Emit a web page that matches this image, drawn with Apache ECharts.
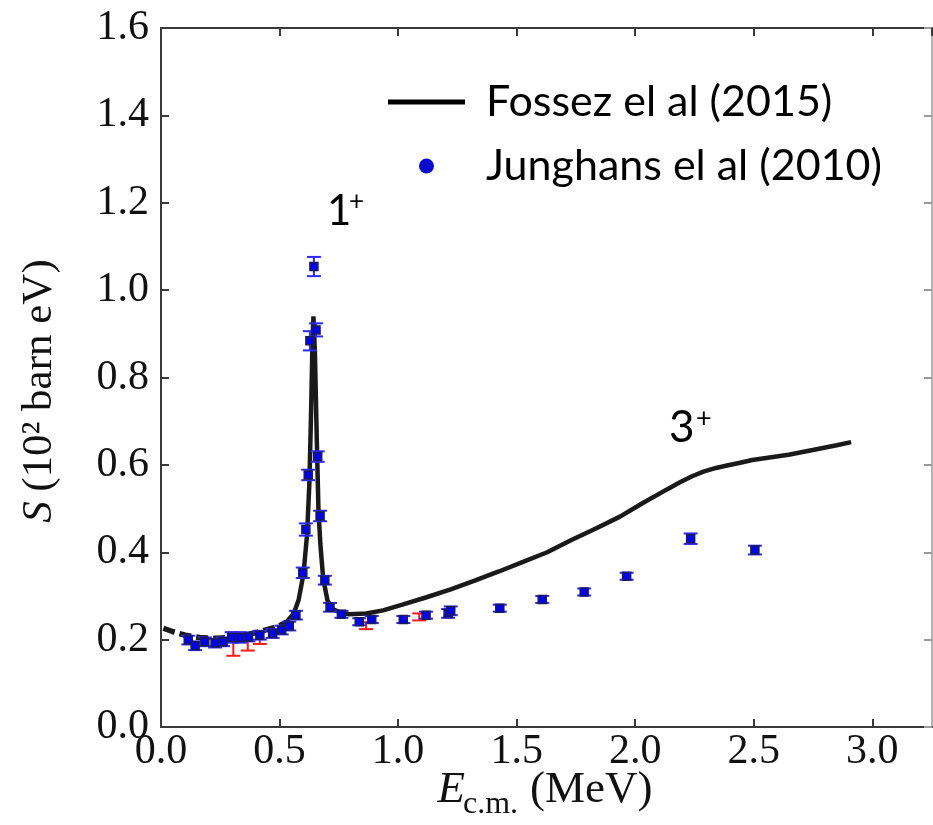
<!DOCTYPE html>
<html>
<head>
<meta charset="utf-8">
<script src="https://cdn.jsdelivr.net/npm/echarts@6/dist/echarts.min.js"></script>
<style>
html,body{margin:0;padding:0;background:#fff;}
#chart{width:933px;height:825px;}
</style>
</head>
<body>
<div id="chart"></div>
<script>
// ---- Data ----
// Fossez et al (2015) theory curve (low-energy dashed part, then solid)
const fossezLowX = [0.010, 0.051, 0.102, 0.163, 0.234, 0.316, 0.407, 0.489, 0.529];
const fossezLowY = [0.226, 0.218, 0.210, 0.205, 0.203, 0.206, 0.217, 0.229, 0.240];
const fossezX = [0.509, 0.529, 0.560, 0.580, 0.601, 0.616, 0.626, 0.633, 0.639, 0.643, 0.649, 0.657, 0.664, 0.672, 0.684, 0.702, 0.723, 0.753, 0.794, 0.865, 0.937, 1.018, 1.120, 1.222, 1.323, 1.425, 1.527, 1.629, 1.731, 1.832, 1.934, 2.036, 2.138, 2.189, 2.240, 2.291, 2.341, 2.392, 2.443, 2.494, 2.545, 2.647, 2.749, 2.850, 2.911];
const fossezY = [0.234, 0.240, 0.260, 0.290, 0.350, 0.440, 0.560, 0.720, 0.880, 0.940, 0.860, 0.660, 0.500, 0.420, 0.340, 0.290, 0.270, 0.263, 0.258, 0.260, 0.267, 0.280, 0.297, 0.315, 0.335, 0.356, 0.378, 0.400, 0.428, 0.454, 0.481, 0.514, 0.545, 0.560, 0.574, 0.585, 0.593, 0.599, 0.605, 0.611, 0.615, 0.623, 0.634, 0.645, 0.652];

// Junghans et al (2010) data
const junX = [0.115, 0.144, 0.185, 0.228, 0.262, 0.298, 0.333, 0.369, 0.417, 0.471, 0.509, 0.541, 0.569, 0.598, 0.611, 0.621, 0.628, 0.645, 0.654, 0.661, 0.671, 0.691, 0.713, 0.761, 0.836, 0.889, 1.022, 1.118, 1.211, 1.222, 1.429, 1.608, 1.785, 1.964, 2.234, 2.505];
const junY = [0.199, 0.186, 0.195, 0.192, 0.195, 0.205, 0.205, 0.206, 0.210, 0.214, 0.222, 0.231, 0.256, 0.353, 0.452, 0.577, 0.884, 1.054, 0.909, 0.619, 0.483, 0.336, 0.274, 0.258, 0.241, 0.246, 0.246, 0.256, 0.260, 0.266, 0.272, 0.292, 0.309, 0.345, 0.431, 0.405];
const junErr = [0.010, 0.010, 0.010, 0.010, 0.010, 0.012, 0.012, 0.010, 0.010, 0.010, 0.010, 0.010, 0.010, 0.012, 0.014, 0.012, 0.022, 0.022, 0.015, 0.012, 0.012, 0.010, 0.010, 0.008, 0.008, 0.008, 0.008, 0.008, 0.010, 0.010, 0.008, 0.008, 0.008, 0.008, 0.012, 0.010];

// underlying red data set (error bars only visible)
const redX = [0.305, 0.366, 0.417, 0.865, 1.089];
const redY = [0.190, 0.195, 0.205, 0.232, 0.252];
const redErr = [0.027, 0.020, 0.015, 0.008, 0.008];

// Axis ticks
const xTicks = [0.0, 0.5, 1.0, 1.5, 2.0, 2.5, 3.0];
const yTicks = [0.0, 0.2, 0.4, 0.6, 0.8, 1.0, 1.2, 1.4, 1.6];

const zip = (xs, ys, es) => xs.map((x, i) => es ? [x, ys[i], es[i]] : [x, ys[i]]);

// ---- Layout ----
const G = {left: 161, top: 28, width: 771, height: 699};
const XMAX = 3.252;
const serif = "'Liberation Serif', 'DejaVu Serif', serif";
const sans = "Lato, 'Open Sans', sans-serif";
const axisColor = '#3a3a3a';

function errRender(color) {
  return function (params, api) {
    const x = api.value(0), y = api.value(1), e = api.value(2);
    const lo = api.coord([x, y - e]);
    const hi = api.coord([x, y + e]);
    const cw = 7;
    const st = {stroke: color, lineWidth: 2};
    return {
      type: 'group',
      children: [
        {type: 'line', shape: {x1: lo[0], y1: lo[1], x2: hi[0], y2: hi[1]}, style: st},
        {type: 'line', shape: {x1: lo[0] - cw, y1: lo[1], x2: lo[0] + cw, y2: lo[1]}, style: st},
        {type: 'line', shape: {x1: hi[0] - cw, y1: hi[1], x2: hi[0] + cw, y2: hi[1]}, style: st}
      ]
    };
  };
}

const tickFmt = v => {
  const r = Math.round(v * 10) / 10;
  return (xTicks.indexOf(r) >= 0 && Math.abs(v - r) < 1e-6) ? r.toFixed(1) : '';
};
const yFmt = v => {
  const r = Math.round(v * 10) / 10;
  return (yTicks.indexOf(r) >= 0 && Math.abs(v - r) < 1e-6) ? r.toFixed(1) : '';
};

// measure helper for x title composition
const mc = document.createElement('canvas').getContext('2d');
function tw(txt, font) { mc.font = font; return mc.measureText(txt).width; }

const fE = "italic 45px " + serif;
const fSub = "32px " + serif;
const fMain = "45px " + serif;
const subGap = -2, mainGap = 12;
const wE = tw('E', fE), wSub = tw('c.m.', fSub), wMain = tw('(MeV)', fMain);
const xTitleCenter = 545;
const xTitleStart = xTitleCenter - (wE + subGap + wSub + mainGap + wMain) / 2;
const xTitleBase = 813;

const chart = echarts.init(document.getElementById('chart'), null, {renderer: 'canvas'});

const option = {
  animation: false,
  backgroundColor: '#ffffff',
  grid: {left: G.left, top: G.top, width: G.width, height: G.height, containLabel: false},
  xAxis: [
    {
      type: 'value', min: 0, max: XMAX, interval: 0.5, position: 'bottom',
      axisLine: {show: true, onZero: false, lineStyle: {color: axisColor, width: 2}},
      axisTick: {show: true, inside: true, length: 8, lineStyle: {color: axisColor, width: 2}},
      axisLabel: {formatter: tickFmt, fontFamily: serif, fontSize: 42, color: '#111', margin: 4, showMaxLabel: false},
      splitLine: {show: false}
    },
    {
      type: 'value', min: 0, max: XMAX, interval: 0.5, position: 'top',
      axisLine: {show: true, onZero: false, lineStyle: {color: axisColor, width: 2}},
      axisTick: {show: true, inside: true, length: 8, lineStyle: {color: axisColor, width: 2}},
      axisLabel: {show: false}, splitLine: {show: false}
    }
  ],
  yAxis: [
    {
      type: 'value', min: 0, max: 1.6, interval: 0.2, position: 'left',
      axisLine: {show: true, onZero: false, lineStyle: {color: axisColor, width: 2}},
      axisTick: {show: true, inside: true, length: 8, lineStyle: {color: axisColor, width: 2}},
      axisLabel: {formatter: yFmt, fontFamily: serif, fontSize: 42, color: '#111', margin: 12},
      splitLine: {show: false}
    },
    {
      type: 'value', min: 0, max: 1.6, interval: 0.2, position: 'right',
      axisLine: {show: true, onZero: false, lineStyle: {color: '#9a9a9a', width: 1.5}},
      axisTick: {show: true, inside: true, length: 8, lineStyle: {color: '#9a9a9a', width: 2}},
      axisLabel: {show: false}, splitLine: {show: false}
    }
  ],
  legend: {
    orient: 'vertical', left: 383, top: 74, itemWidth: 77, itemHeight: 15, itemGap: 18,
    textStyle: {fontFamily: sans, fontSize: 43, color: '#000', lineHeight: 46, padding: [0, 0, 0, 16]},
    data: [
      {name: 'Fossez el al (2015)', icon: 'path://M0,0 L77,0 L77,5 L0,5 Z', itemStyle: {color: '#000', opacity: 1}},
      {name: 'Junghans el al (2010)', icon: 'circle', itemStyle: {color: '#0a0acd', borderWidth: 0, opacity: 1}}
    ]
  },
  series: [
    {
      name: 'Fossez low', type: 'line', data: zip(fossezLowX, fossezLowY),
      symbol: 'none', lineStyle: {color: '#1a1a1a', width: 5.5, type: [12, 5]}, z: 3
    },
    {
      name: 'Fossez el al (2015)', type: 'line', data: zip(fossezX, fossezY),
      symbol: 'none', lineStyle: {color: '#1a1a1a', width: 4.5}, itemStyle: {color: '#000'}, z: 3
    },
    {
      name: 'red err', type: 'custom', renderItem: errRender('#ff1a1a'),
      data: zip(redX, redY, redErr), encode: {x: 0, y: 1}, z: 2
    },
    {
      name: 'jun err', type: 'custom', renderItem: errRender('#2a2aff'),
      data: zip(junX, junY, junErr), encode: {x: 0, y: 1}, z: 4
    },
    {
      name: 'Junghans el al (2010)', type: 'scatter', data: zip(junX, junY),
      symbol: 'rect', symbolSize: 8,
      itemStyle: {color: '#0000f0', borderColor: '#1c1c50', borderWidth: 1.5, opacity: 1}, z: 5
    }
  ],
  graphic: [
    // y-axis title
    {
      type: 'text', x: 40, y: 391, rotation: Math.PI / 2, z: 10,
      style: {
        text: '{i|S} {n|(10² barn eV)}',
        rich: {
          i: {fontFamily: serif, fontSize: 43, fontStyle: 'italic', fill: '#111', padding: [0, 6, 0, 0]},
          n: {fontFamily: serif, fontSize: 43, fill: '#111'}
        },
        align: 'center', verticalAlign: 'middle'
      }
    },
    // x-axis title
    {type: 'text', x: xTitleStart, y: xTitleBase, z: 10,
     style: {text: 'E', font: fE, fill: '#111', align: 'left', verticalAlign: 'bottom'}},
    {type: 'text', x: xTitleStart + wE + subGap, y: xTitleBase + 8, z: 10,
     style: {text: 'c.m.', font: fSub, fill: '#111', align: 'left', verticalAlign: 'bottom'}},
    {type: 'text', x: xTitleStart + wE + subGap + wSub + mainGap, y: xTitleBase, z: 10,
     style: {text: '(MeV)', font: fMain, fill: '#111', align: 'left', verticalAlign: 'bottom'}},
    // annotations
    {type: 'text', x: 327, y: 232, z: 10,
     style: {text: '1', font: "42px " + sans, fill: '#000', align: 'left', verticalAlign: 'bottom'}},
    {type: 'text', x: 349, y: 215, z: 10,
     style: {text: '+', font: "26px " + sans, fill: '#000', align: 'left', verticalAlign: 'bottom'}},
    {type: 'text', x: 669, y: 450, z: 10,
     style: {text: '3', font: "44px " + sans, fill: '#000', align: 'left', verticalAlign: 'bottom'}},
    {type: 'text', x: 696, y: 432, z: 10,
     style: {text: '+', font: "27px " + sans, fill: '#000', align: 'left', verticalAlign: 'bottom'}}
  ]
};

chart.setOption(option);
</script>
</body>
</html>
